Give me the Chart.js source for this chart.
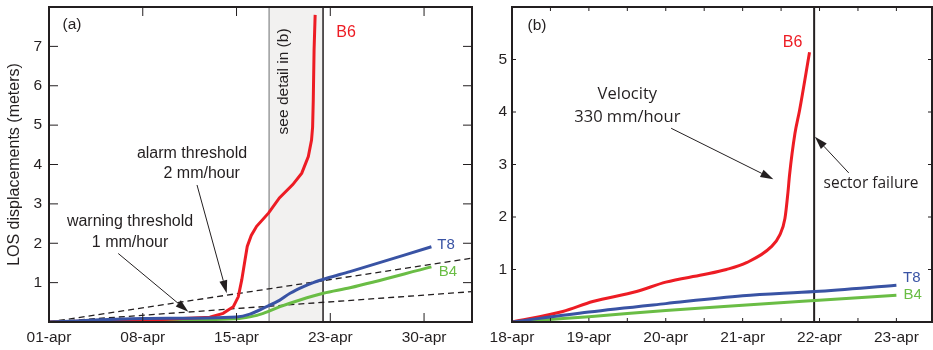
<!DOCTYPE html>
<html lang="en">
<head>
<meta charset="UTF-8">
<title>LOS displacements</title>
<script src="https://cdn.jsdelivr.net/npm/chart.js@4.4.1/dist/chart.umd.min.js"></script>
<style>
    html, body { margin: 0; padding: 0; background: #fff; }
    .wrap { position: relative; width: 933px; height: 350px; overflow: hidden; }
    #chartA { position: absolute; left: 0; top: 0; }
    #chartB { position: absolute; left: 480px; top: 0; }
</style>
</head>
<body>
<div class="wrap">
    <canvas id="chartA" width="480" height="350"></canvas>
    <canvas id="chartB" width="453" height="350"></canvas>
</div>
<script>
// ---- panel (a): x = days since 01-apr, y = metres ----
const dayTicksA = [0, 7, 14, 21, 28];
const dayLabelsA = ['01-apr', '08-apr', '15-apr', '23-apr', '30-apr'];
const metreTicksA = [1, 2, 3, 4, 5, 6, 7];

const b6DaysA   = [0, 4, 8, 12, 13, 13.76, 14.13, 14.39, 14.63, 14.8, 15.1, 15.5, 16.4, 17.2, 18.2, 18.87, 19.36, 19.6, 19.68, 19.73, 19.79, 19.87];
const b6ValuesA = [0, 0.03, 0.06, 0.12, 0.22, 0.39, 0.64, 1.07, 1.57, 1.92, 2.2, 2.43, 2.77, 3.15, 3.49, 3.78, 4.2, 4.62, 4.95, 5.64, 6.91, 7.8];
const t8DaysA   = [0, 7, 14, 15, 16.25, 17.2, 18, 19, 19.73, 20.73, 22.47, 28.55];
const t8ValuesA = [0, 0.09, 0.13, 0.2, 0.39, 0.55, 0.73, 0.9, 1.0, 1.11, 1.28, 1.91];
const b4DaysA   = [0, 7, 14, 15, 16, 17.25, 18.74, 20.48, 22.47, 28.55];
const b4ValuesA = [0, 0.04, 0.08, 0.13, 0.22, 0.39, 0.56, 0.73, 0.87, 1.40];
const alarmDaysA   = [0, 31.58];
const alarmValuesA = [0, 1.62];
const warnDaysA    = [0, 31.58];
const warnValuesA  = [0, 0.77];

// ---- panel (b): x = days since 18-apr ----
const dayTicksB = [0, 1, 2, 3, 4, 5];
const dayLabelsB = ['18-apr', '19-apr', '20-apr', '21-apr', '22-apr', '23-apr'];
const halfDayMarksB = [0.5, 1, 1.5, 2, 2.5, 3, 3.5, 4, 4.5, 5];
const metreTicksB = [1, 2, 3, 4, 5];

const b6DaysB   = [0, 0.66, 1.05, 1.62, 2.0, 2.48, 2.79, 3.05, 3.37, 3.48, 3.55, 3.59, 3.61, 3.68, 3.74, 3.87];
const b6ValuesB = [0, 0.2, 0.39, 0.58, 0.76, 0.9, 1.0, 1.13, 1.43, 1.65, 1.97, 2.48, 2.8, 3.59, 4.03, 5.14];
const t8DaysB   = [0, 1, 2, 3, 3.94, 5];
const t8ValuesB = [0, 0.19, 0.35, 0.5, 0.58, 0.7];
const b4DaysB   = [0, 1, 2, 3, 3.94, 5];
const b4ValuesB = [0, 0.1, 0.22, 0.32, 0.41, 0.51];

const ink = '#231f20';
const red = '#ed1c24';
const blue = '#3953a4';
const green = '#6abd45';

Chart.defaults.font.family = "'Liberation Sans', Arial, sans-serif";
Chart.defaults.color = ink;

const pts = (xs, ys) => xs.map((x, i) => ({ x: x, y: ys[i] }));

function drawArrow(ctx, x0, y0, x1, y1) {
    const ang = Math.atan2(y1 - y0, x1 - x0);
    const len = 13, half = 4;
    const bx = x1 - len * Math.cos(ang), by = y1 - len * Math.sin(ang);
    ctx.beginPath();
    ctx.moveTo(x0, y0);
    ctx.lineTo(bx, by);
    ctx.stroke();
    ctx.beginPath();
    ctx.moveTo(x1, y1);
    ctx.lineTo(bx + half * Math.sin(ang), by - half * Math.cos(ang));
    ctx.lineTo(bx - half * Math.sin(ang), by + half * Math.cos(ang));
    ctx.closePath();
    ctx.fill();
}

// shading, frame with inward ticks, labels and arrows
const decor = {
    id: 'decor',
    beforeDatasetsDraw(chart, args, o) {
        const { ctx, chartArea: a, scales: { x } } = chart;
        ctx.save();
        if (o.shade) {
            const x0 = x.getPixelForValue(o.shade[0]);
            const x1 = x.getPixelForValue(o.shade[1]);
            ctx.fillStyle = '#f2f1f0';
            ctx.fillRect(x0, a.top, x1 - x0, a.bottom - a.top);
        }
        (o.vlines || []).forEach(v => {
            const px = x.getPixelForValue(v.x);
            ctx.strokeStyle = v.color;
            ctx.lineWidth = v.width;
            ctx.beginPath();
            ctx.moveTo(px, a.top);
            ctx.lineTo(px, a.bottom);
            ctx.stroke();
        });
        ctx.restore();
    },
    afterDatasetsDraw(chart, args, o) {
        const { ctx, chartArea: a, scales: { x, y } } = chart;
        ctx.save();
        // inward tick marks
        ctx.strokeStyle = ink;
        ctx.lineWidth = 1;
        ctx.beginPath();
        o.xMarks.forEach(v => {
            const px = x.getPixelForValue(v);
            ctx.moveTo(px, a.bottom); ctx.lineTo(px, a.bottom - o.tickLen);
            ctx.moveTo(px, a.top); ctx.lineTo(px, a.top + o.tickLen);
        });
        o.yMarks.forEach(v => {
            const py = y.getPixelForValue(v);
            ctx.moveTo(a.left, py); ctx.lineTo(a.left + o.tickLen, py);
            ctx.moveTo(a.right, py); ctx.lineTo(a.right - o.tickLen, py);
        });
        ctx.stroke();
        // frame
        ctx.lineWidth = 2;
        ctx.strokeRect(a.left, a.top, a.right - a.left, a.bottom - a.top);
        // arrows
        ctx.fillStyle = ink;
        ctx.lineWidth = 1;
        (o.arrows || []).forEach(r => {
            drawArrow(ctx, x.getPixelForValue(r.from[0]), y.getPixelForValue(r.from[1]),
                x.getPixelForValue(r.to[0]), y.getPixelForValue(r.to[1]));
        });
        // texts
        ctx.textAlign = 'center';
        ctx.textBaseline = 'middle';
        (o.texts || []).forEach(t => {
            ctx.save();
            ctx.fillStyle = t.color || ink;
            ctx.font = (t.size || 16) + 'px ' + (t.family || "'Liberation Sans', Arial, sans-serif");
            ctx.translate(x.getPixelForValue(t.x), y.getPixelForValue(t.y));
            if (t.rotate) ctx.rotate(-Math.PI / 2);
            ctx.fillText(t.text, 0, 0);
            ctx.restore();
        });
        ctx.restore();
    }
};

function scalesFor(p) {
    return {
        x: {
            type: 'linear', min: 0, max: p.xMax,
            afterBuildTicks: s => { s.ticks = p.xTicks.map(v => ({ value: v })); },
            afterFit: s => { s.height = 28; s.paddingLeft = 0; s.paddingRight = 0; },
            grid: { display: false, drawTicks: false },
            border: { display: false },
            ticks: {
                padding: 6, color: ink, font: { size: 15.5 }, maxRotation: 0, autoSkip: false,
                callback: (v, i) => p.xLabels[i]
            }
        },
        y: {
            type: 'linear', min: 0, max: p.yMax,
            afterBuildTicks: s => { s.ticks = p.yTicks.map(v => ({ value: v })); },
            afterFit: s => { s.width = p.yWidth; s.paddingTop = 0; s.paddingBottom = 0; },
            grid: { display: false, drawTicks: false },
            border: { display: false },
            ticks: { padding: p.yPad, color: ink, font: { size: 15.5 } },
            title: p.yTitle ? {
                display: true, text: p.yTitle, color: ink, font: { size: 16 },
                padding: { top: 5, bottom: 0 }
            } : { display: false }
        }
    };
}

// smooth: monotone curve through the read points, otherwise straight segments
function line(data, color, width, smooth, dash) {
    return {
        data: data, borderColor: color, borderWidth: width, borderDash: dash || [],
        pointRadius: 0, fill: false,
        cubicInterpolationMode: smooth ? 'monotone' : 'default',
        tension: 0
    };
}

new Chart(document.getElementById('chartA'), {
    type: 'line',
    data: {
        datasets: [
            line(pts(t8DaysA, t8ValuesA), blue, 3, true),
            line(pts(b6DaysA, b6ValuesA), red, 3, false),
            line(pts(b4DaysA, b4ValuesA), green, 3, true),
            line(pts(alarmDaysA, alarmValuesA), ink, 1.3, false, [6, 4]),
            line(pts(warnDaysA, warnValuesA), ink, 1.3, false, [6, 4])
        ]
    },
    options: {
        responsive: false,
        animation: false,
        layout: { padding: { left: 0, top: 7, right: 8, bottom: 0 } },
        scales: scalesFor({
            xMax: 31.58, xTicks: dayTicksA, xLabels: dayLabelsA,
            yMax: 8, yTicks: metreTicksA, yWidth: 49, yPad: 7,
            yTitle: 'LOS displacements (meters)'
        }),
        plugins: {
            legend: { display: false },
            tooltip: { enabled: false },
            decor: {
                shade: [16.43, 20.46],
                vlines: [{ x: 16.43, color: '#6d6e71', width: 1 }, { x: 20.46, color: ink, width: 1.5 }],
                tickLen: 9,
                xMarks: dayTicksA.slice(1),
                yMarks: metreTicksA,
                texts: [
                    { x: 1.72, y: 7.54, text: '(a)', size: 15.5 },
                    { x: 22.18, y: 7.34, text: 'B6', color: red, size: 16 },
                    { x: 17.55, y: 6.11, text: 'see detail in (b)', size: 15.5, rotate: true },
                    { x: 10.68, y: 4.27, text: 'alarm threshold' },
                    { x: 11.40, y: 3.78, text: '2 mm/hour' },
                    { x: 6.05, y: 2.54, text: 'warning threshold' },
                    { x: 6.05, y: 2.01, text: '1 mm/hour' },
                    { x: 29.64, y: 1.96, text: 'T8', color: blue, size: 15 },
                    { x: 29.79, y: 1.27, text: 'B4', color: green, size: 15 }
                ],
                arrows: [
                    { from: [11.05, 3.48], to: [13.27, 0.73] },
                    { from: [5.17, 1.74], to: [10.40, 0.26] }
                ]
            }
        }
    },
    plugins: [decor]
});

new Chart(document.getElementById('chartB'), {
    type: 'line',
    data: {
        datasets: [
            line(pts(t8DaysB, t8ValuesB), blue, 3, true),
            line(pts(b6DaysB, b6ValuesB), red, 3, true),
            line(pts(b4DaysB, b4ValuesB), green, 3, true)
        ]
    },
    options: {
        responsive: false,
        animation: false,
        layout: { padding: { left: 0, top: 7, right: 1, bottom: 0 } },
        scales: scalesFor({
            xMax: 5.463, xTicks: dayTicksB, xLabels: dayLabelsB,
            yMax: 6, yTicks: metreTicksB, yWidth: 32, yPad: 5
        }),
        plugins: {
            legend: { display: false },
            tooltip: { enabled: false },
            decor: {
                vlines: [{ x: 3.93, color: ink, width: 2 }],
                tickLen: 4,
                xMarks: halfDayMarksB,
                yMarks: metreTicksB,
                texts: [
                    { x: 0.325, y: 5.64, text: '(b)', size: 15.5 },
                    { x: 3.65, y: 5.32, text: 'B6', color: red, size: 16 },
                    { x: 1.50, y: 4.34, text: 'Velocity', size: 16.5, family: "'Open Sans', sans-serif" },
                    { x: 1.50, y: 3.90, text: '330 mm/hour', size: 16.5, family: "'Open Sans', sans-serif" },
                    { x: 4.67, y: 2.64, text: 'sector failure', size: 15.5, family: "'Open Sans', sans-serif" },
                    { x: 5.20, y: 0.84, text: 'T8', color: blue, size: 15 },
                    { x: 5.21, y: 0.51, text: 'B4', color: green, size: 15 }
                ],
                arrows: [
                    { from: [2.07, 3.69], to: [3.40, 2.72] },
                    { from: [4.38, 2.84], to: [3.94, 3.53] }
                ]
            }
        }
    },
    plugins: [decor]
});
</script>
</body>
</html>
